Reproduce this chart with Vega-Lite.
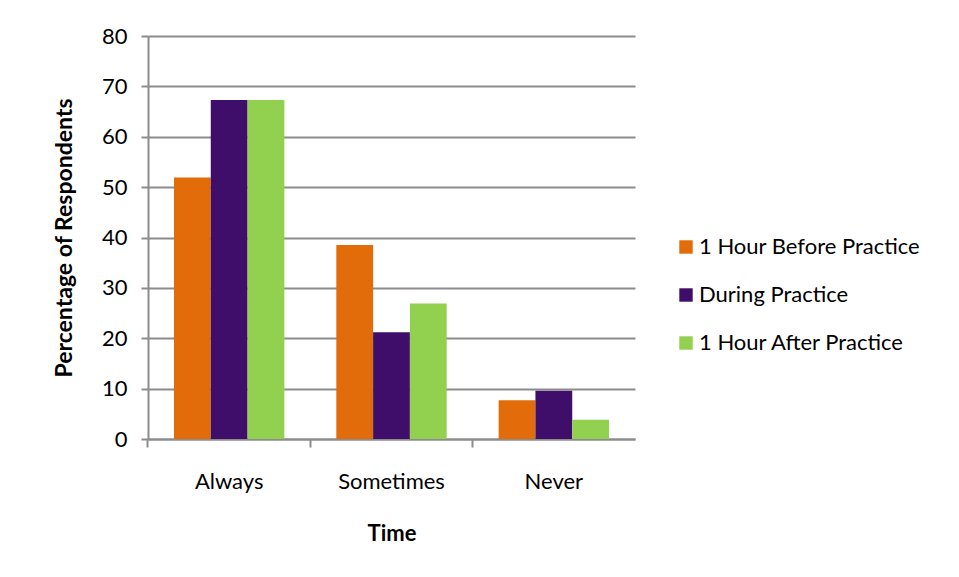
{
  "$schema": "https://vega.github.io/schema/vega-lite/v6.json",
  "autosize": "none",
  "width": 487,
  "height": 403,
  "padding": {"left": 148, "top": 36, "right": 324, "bottom": 138},
  "background": "white",
  "data": {
    "values": [
      {"time": "Always", "series": "1 Hour Before Practice", "pct": 51.9},
      {"time": "Always", "series": "During Practice", "pct": 67.3},
      {"time": "Always", "series": "1 Hour After Practice", "pct": 67.3},
      {"time": "Sometimes", "series": "1 Hour Before Practice", "pct": 38.5},
      {"time": "Sometimes", "series": "During Practice", "pct": 21.2},
      {"time": "Sometimes", "series": "1 Hour After Practice", "pct": 26.9},
      {"time": "Never", "series": "1 Hour Before Practice", "pct": 7.7},
      {"time": "Never", "series": "During Practice", "pct": 9.6},
      {"time": "Never", "series": "1 Hour After Practice", "pct": 3.8}
    ]
  },
  "mark": {"type": "bar"},
  "encoding": {
    "x": {
      "field": "time",
      "type": "nominal",
      "sort": ["Always", "Sometimes", "Never"],
      "scale": {"paddingInner": 0.32, "paddingOuter": 0.16},
      "axis": {
        "title": "Time",
        "titleFont": "Lato",
        "titleFontSize": 22,
        "titleFontWeight": "bold",
        "titleColor": "#000",
        "titlePadding": 31,
        "labelAngle": 0,
        "labelFont": "Lato",
        "labelFontSize": 22,
        "labelColor": "#000",
        "labelPadding": 24,
        "bandPosition": -0.2364,
        "tickSize": 8,
        "tickColor": "#8c8c8c",
        "tickWidth": 2,
        "domainColor": "#8c8c8c",
        "domainWidth": 2,
        "grid": false
      }
    },
    "xOffset": {
      "field": "series",
      "type": "nominal",
      "sort": ["1 Hour Before Practice", "During Practice", "1 Hour After Practice"]
    },
    "y": {
      "field": "pct",
      "type": "quantitative",
      "scale": {"domain": [0, 80], "nice": false},
      "axis": {
        "title": "Percentage of Respondents",
        "titleFont": "Lato",
        "titleFontSize": 23,
        "titleFontWeight": "bold",
        "titleColor": "#000",
        "titlePadding": 25,
        "values": [0, 10, 20, 30, 40, 50, 60, 70, 80],
        "labelFont": "Lato",
        "labelFontSize": 22,
        "labelColor": "#000",
        "labelPadding": 14,
        "tickSize": 7,
        "tickColor": "#8c8c8c",
        "tickWidth": 2,
        "domainColor": "#8c8c8c",
        "domainWidth": 2,
        "grid": true,
        "gridColor": "#8c8c8c",
        "gridWidth": 2
      }
    },
    "color": {
      "field": "series",
      "type": "nominal",
      "sort": ["1 Hour Before Practice", "During Practice", "1 Hour After Practice"],
      "scale": {
        "domain": ["1 Hour Before Practice", "During Practice", "1 Hour After Practice"],
        "range": ["#E36C0A", "#3F0E6A", "#92D050"]
      },
      "legend": {
        "title": null,
        "orient": "none",
        "legendX": 527,
        "legendY": 200,
        "symbolType": "square",
        "symbolSize": 180,
        "symbolStrokeWidth": 0,
        "labelFont": "Lato",
        "labelFontSize": 22,
        "labelColor": "#000",
        "labelOffset": 2,
        "labelLimit": 400,
        "rowPadding": 26
      }
    }
  },
  "config": {"view": {"stroke": null}}
}
